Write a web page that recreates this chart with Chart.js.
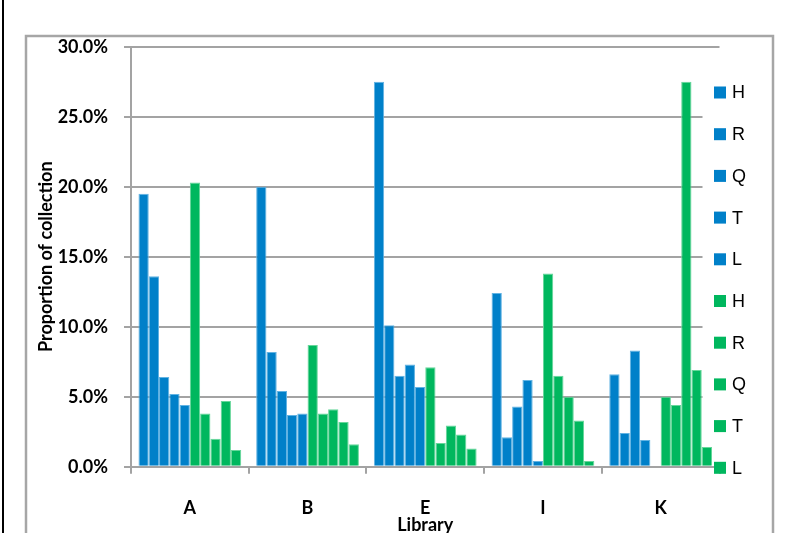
<!DOCTYPE html>
<html>
<head>
<meta charset="utf-8">
<script src="https://cdn.jsdelivr.net/npm/chart.js@4.4.1/dist/chart.umd.min.js"></script>
<style>
  html, body { margin: 0; padding: 0; background: #ffffff; }
  #wrap { width: 801px; height: 533px; }
</style>
</head>
<body>
<div id="wrap"><canvas id="c" width="801" height="533"></canvas></div>
<script>
// Libraries on the x axis
const libraries = ['A', 'B', 'E', 'I', 'K'];
// Item types, shown once per colour group
const typeLabels = ['H', 'R', 'Q', 'T', 'L'];

// Blue group: proportion of collection (%) per library
const blueH = [19.5, 20.0, 27.5, 12.4, 6.6];
const blueR = [13.6, 8.2, 10.1, 2.1, 2.4];
const blueQ = [6.4, 5.4, 6.5, 4.3, 8.3];
const blueT = [5.2, 3.7, 7.3, 6.2, 1.9];
const blueL = [4.4, 3.8, 5.7, 0.4, 0];

// Green group: proportion of collection (%) per library
const greenH = [20.3, 8.7, 7.1, 13.8, 5.0];
const greenR = [3.8, 3.8, 1.7, 6.5, 4.4];
const greenQ = [2.0, 4.1, 2.95, 5.0, 27.5];
const greenT = [4.7, 3.2, 2.3, 3.3, 6.9];
const greenL = [1.2, 1.6, 1.3, 0.4, 1.4];

// y-axis tick values (percent)
const yTicks = [0, 5, 10, 15, 20, 25, 30];

const BLUE = '#0080C9';
const BLUE_EDGE = '#62B3E3';
const GREEN = '#00B75E';
const GREEN_EDGE = '#66D69A';
const GRID = '#A3A3A3';

const blueSets = [blueH, blueR, blueQ, blueT, blueL];
const greenSets = [greenH, greenR, greenQ, greenT, greenL];

const datasets = [];
blueSets.forEach((d, i) => datasets.push({
  label: typeLabels[i], data: d,
  backgroundColor: BLUE, borderColor: BLUE_EDGE, borderWidth: 1
}));
greenSets.forEach((d, i) => datasets.push({
  label: typeLabels[i], data: d,
  backgroundColor: GREEN, borderColor: GREEN_EDGE, borderWidth: 1
}));

// Outer frame lines around the figure
const framePlugin = {
  id: 'frame',
  beforeDraw(chart) {
    const ctx = chart.ctx;
    ctx.save();
    ctx.fillStyle = '#ffffff';
    ctx.fillRect(0, 0, chart.width, chart.height);
    ctx.strokeStyle = '#000000';
    ctx.lineWidth = 2;
    ctx.beginPath();
    ctx.moveTo(3, 0); ctx.lineTo(3, chart.height);
    ctx.stroke();
    ctx.strokeStyle = '#A6A6A6';
    ctx.lineWidth = 2.5;
    ctx.beginPath();
    ctx.moveTo(26, chart.height); ctx.lineTo(26, 36);
    ctx.lineTo(773, 36); ctx.lineTo(773, chart.height);
    ctx.stroke();
    ctx.restore();
  }
};

// Legend box sitting over the right edge of the plot area
const LEGEND_X = 702.5;
const legendPlugin = {
  id: 'sideLegend',
  beforeDatasetsDraw(chart) {
    const { ctx, chartArea } = chart;
    ctx.save();
    ctx.fillStyle = '#ffffff';
    ctx.fillRect(LEGEND_X, chartArea.top + 3, chartArea.right - LEGEND_X + 2, chartArea.bottom - chartArea.top - 5);
    ctx.restore();
  },
  afterDraw(chart) {
    const ctx = chart.ctx;
    ctx.save();
    ctx.font = '18px "Liberation Sans", Arial, sans-serif';
    ctx.textBaseline = 'middle';
    ctx.textAlign = 'left';
    chart.data.datasets.forEach((ds, i) => {
      const cy = 92.5 + i * 41.7;
      ctx.fillStyle = ds.backgroundColor;
      ctx.fillRect(714, cy - 6, 12, 12);
      ctx.fillStyle = '#000000';
      ctx.fillText(ds.label, 732, cy + 1);
    });
    ctx.restore();
  }
};

new Chart(document.getElementById('c'), {
  type: 'bar',
  data: { labels: libraries, datasets },
  plugins: [framePlugin, legendPlugin],
  options: {
    responsive: false,
    animation: false,
    devicePixelRatio: 1,
    layout: { padding: { left: 0, right: 81.5, top: 46.7, bottom: 0 } },
    datasets: { bar: { categoryPercentage: 0.873, barPercentage: 1.0 } },
    plugins: { legend: { display: false }, tooltip: { enabled: false } },
    scales: {
      x: {
        afterFit(scale) { scale.height = 533 - 466.7; },
        grid: { drawOnChartArea: false, drawTicks: true, tickLength: 7, color: GRID, lineWidth: 2 },
        border: { color: GRID, width: 2 },
        ticks: { color: '#000', padding: 24, font: { family: 'Lato', weight: 'bold', size: 18 } },
        title: {
          display: true, text: 'Library', color: '#000',
          font: { family: 'Lato', weight: 'bold', size: 18, lineHeight: 0.9 },
          padding: { top: 0, bottom: 0 }
        }
      },
      y: {
        min: 0, max: 30,
        afterFit(scale) { scale.width = 131; },
        afterBuildTicks(scale) { scale.ticks = yTicks.map(v => ({ value: v })); },
        grid: { color: GRID, lineWidth: 2, tickLength: 7, drawTicks: true },
        border: { color: GRID, width: 2 },
        ticks: {
          color: '#000', padding: 16,
          font: { family: 'Lato', weight: 'bold', size: 18 },
          callback: v => v.toFixed(1) + '%'
        },
        title: {
          display: true, text: 'Proportion of collection', color: '#000',
          font: { family: 'Lato', weight: 'bold', size: 18, lineHeight: 1.1 },
          padding: { top: 36, bottom: 0 }
        }
      }
    }
  }
});
</script>
</body>
</html>
